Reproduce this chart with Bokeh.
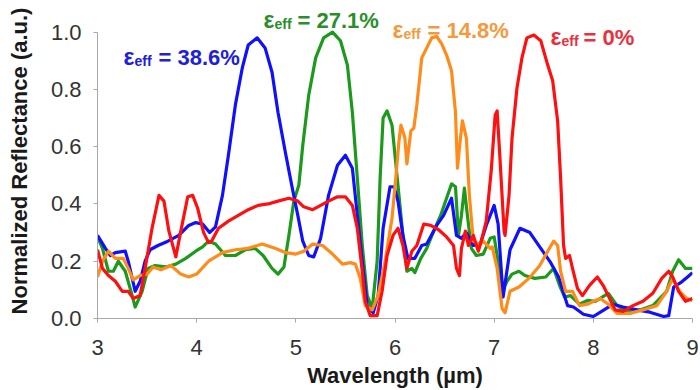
from bokeh.plotting import figure
from bokeh.models import Range1d, FixedTicker, PrintfTickFormatter, Label
from bokeh.embed import file_html
from bokeh.resources import INLINE

# ---------------- data ----------------
blue_x = [3.0, 3.08, 3.13, 3.18, 3.28, 3.31, 3.38, 3.43, 3.48, 3.53, 3.61, 3.71, 3.82, 3.92, 3.99, 4.06, 4.13, 4.19,
          4.26, 4.32, 4.39, 4.46, 4.52, 4.61, 4.69, 4.76, 4.82, 4.9, 4.97, 5.02, 5.07, 5.13, 5.18, 5.25, 5.33, 5.42,
          5.5, 5.57, 5.62, 5.67, 5.72, 5.78, 5.83, 5.88, 5.95, 5.99, 6.03, 6.08, 6.13, 6.2, 6.27, 6.32, 6.42, 6.49,
          6.57, 6.62, 6.67, 6.72, 6.79, 6.86, 6.92, 7.0, 7.04, 7.09, 7.16, 7.26, 7.36, 7.47, 7.57, 7.65, 7.74, 7.8,
          7.9, 8.0, 8.1, 8.2, 8.3, 8.44, 8.57, 8.71, 8.76, 8.81, 8.88, 8.95, 9.0]
blue_y = [0.29, 0.245, 0.22, 0.23, 0.235, 0.2, 0.095, 0.13, 0.2, 0.24, 0.255, 0.27, 0.29, 0.325, 0.335, 0.33, 0.30, 0.32,
          0.43, 0.57, 0.745, 0.875, 0.955, 0.98, 0.945, 0.86, 0.72, 0.57, 0.445, 0.36, 0.27, 0.22, 0.215, 0.28, 0.43, 0.535,
          0.57, 0.525, 0.36, 0.2, 0.045, 0.02, 0.08, 0.315, 0.46, 0.46, 0.41, 0.29, 0.21, 0.21, 0.255, 0.26, 0.325, 0.36,
          0.42, 0.29, 0.28, 0.30, 0.255, 0.26, 0.325, 0.395, 0.33, 0.075, 0.24, 0.315, 0.30, 0.245, 0.195, 0.145, 0.045, 0.04,
          0.015, 0.007, 0.028, 0.05, 0.04, 0.03, 0.022, 0.007, 0.01, 0.11, 0.125, 0.145, 0.16]

green_x = [3.0, 3.05, 3.11, 3.16, 3.21, 3.28, 3.35, 3.38, 3.45, 3.51, 3.58, 3.69, 3.79, 3.89, 3.99, 4.06, 4.12, 4.19,
           4.29, 4.39, 4.49, 4.59, 4.67, 4.76, 4.82, 4.88, 4.93, 4.98, 5.03, 5.07, 5.13, 5.2, 5.28, 5.37, 5.45, 5.52,
           5.57, 5.62, 5.67, 5.72, 5.77, 5.82, 5.85, 5.88, 5.92, 5.97, 6.02, 6.08, 6.12, 6.17, 6.2, 6.26, 6.32, 6.39,
           6.46, 6.52, 6.57, 6.61, 6.64, 6.67, 6.7, 6.73, 6.77, 6.82, 6.89, 6.96, 7.0, 7.03, 7.08, 7.13, 7.18, 7.25,
           7.31, 7.41, 7.52, 7.6, 7.66, 7.71, 7.77, 7.86, 7.94, 8.02, 8.07, 8.15, 8.24, 8.34, 8.47, 8.6, 8.74, 8.8,
           8.86, 8.93, 9.0]
green_y = [0.285, 0.245, 0.165, 0.165, 0.2, 0.165, 0.08, 0.04, 0.095, 0.175, 0.185, 0.18, 0.19, 0.21, 0.235, 0.25, 0.27, 0.26,
           0.22, 0.22, 0.24, 0.245, 0.22, 0.175, 0.155, 0.18, 0.29, 0.41, 0.465, 0.605, 0.78, 0.91, 0.98, 1.0, 0.97, 0.885,
           0.72, 0.49, 0.255, 0.08, 0.035, 0.2, 0.49, 0.70, 0.725, 0.675, 0.5, 0.29, 0.165, 0.175, 0.16, 0.21, 0.245, 0.305,
           0.36, 0.42, 0.47, 0.46, 0.29, 0.36, 0.455, 0.36, 0.245, 0.22, 0.225, 0.28, 0.285, 0.22, 0.095, 0.13, 0.155, 0.165,
           0.15, 0.14, 0.145, 0.175, 0.115, 0.075, 0.08, 0.05, 0.063, 0.06, 0.07, 0.088, 0.045, 0.025, 0.03, 0.045, 0.095, 0.165,
           0.205, 0.175, 0.175]

orange_x = [3.0, 3.05, 3.11, 3.18, 3.26, 3.31, 3.36, 3.43, 3.5, 3.56, 3.64, 3.74, 3.84, 3.92, 4.0, 4.12, 4.26, 4.39,
            4.52, 4.66, 4.79, 4.9, 5.0, 5.08, 5.17, 5.27, 5.37, 5.47, 5.55, 5.6, 5.65, 5.7, 5.77, 5.83, 5.9, 5.97,
            6.01, 6.04, 6.06, 6.1, 6.12, 6.16, 6.19, 6.22, 6.27, 6.32, 6.37, 6.42, 6.47, 6.52, 6.57, 6.61, 6.63, 6.66,
            6.68, 6.72, 6.75, 6.79, 6.84, 6.89, 6.96, 6.98, 7.03, 7.08, 7.11, 7.16, 7.25, 7.35, 7.46, 7.54, 7.6, 7.64,
            7.67, 7.72, 7.79, 7.86, 7.94, 8.02, 8.07, 8.15, 8.24, 8.37, 8.5, 8.64, 8.74, 8.8, 8.87, 8.94, 9.0]
orange_y = [0.145, 0.2, 0.235, 0.21, 0.21, 0.175, 0.135, 0.15, 0.155, 0.18, 0.17, 0.185, 0.155, 0.145, 0.155, 0.2, 0.23, 0.24,
            0.245, 0.26, 0.245, 0.23, 0.225, 0.235, 0.26, 0.255, 0.225, 0.19, 0.195, 0.19, 0.14, 0.045, 0.03, 0.08, 0.2, 0.35,
            0.5, 0.62, 0.675, 0.63, 0.54, 0.655, 0.665, 0.745, 0.91, 0.945, 0.98, 0.985, 0.96, 0.92, 0.865, 0.72, 0.525, 0.63,
            0.69, 0.63, 0.43, 0.27, 0.26, 0.27, 0.245, 0.25, 0.175, 0.035, 0.02, 0.095, 0.11, 0.14, 0.185, 0.235, 0.27, 0.255,
            0.165, 0.095, 0.095, 0.045, 0.05, 0.063, 0.07, 0.05, 0.018, 0.018, 0.03, 0.045, 0.095, 0.14, 0.095, 0.07, 0.063]

red_x = [3.0, 3.05, 3.11, 3.18, 3.25, 3.31, 3.36, 3.43, 3.48, 3.55, 3.62, 3.67, 3.72, 3.79, 3.84, 3.91, 3.96, 4.01,
         4.07, 4.12, 4.15, 4.22, 4.32, 4.42, 4.52, 4.62, 4.72, 4.82, 4.93, 5.02, 5.08, 5.17, 5.25, 5.33, 5.42, 5.5,
         5.57, 5.62, 5.67, 5.7, 5.75, 5.82, 5.87, 5.92, 5.98, 6.03, 6.08, 6.12, 6.17, 6.22, 6.29, 6.36, 6.44, 6.52,
         6.59, 6.62, 6.65, 6.67, 6.71, 6.74, 6.79, 6.84, 6.87, 6.92, 6.97, 7.01, 7.03, 7.06, 7.1, 7.11, 7.15, 7.18,
         7.23, 7.28, 7.33, 7.4, 7.47, 7.54, 7.59, 7.64, 7.67, 7.7, 7.72, 7.76, 7.79, 7.84, 7.89, 7.96, 8.04, 8.1,
         8.15, 8.22, 8.3, 8.4, 8.5, 8.6, 8.69, 8.76, 8.8, 8.86, 8.93, 9.0]
red_y = [0.24, 0.175, 0.15, 0.13, 0.095, 0.095, 0.07, 0.08, 0.175, 0.315, 0.43, 0.41, 0.305, 0.215, 0.305, 0.425, 0.43, 0.385,
         0.3, 0.265, 0.27, 0.315, 0.34, 0.36, 0.38, 0.395, 0.40, 0.41, 0.42, 0.41, 0.39, 0.38, 0.395, 0.41, 0.425, 0.425,
         0.395, 0.315, 0.165, 0.06, 0.01, 0.01, 0.095, 0.22, 0.29, 0.315, 0.255, 0.175, 0.235, 0.255, 0.33, 0.325, 0.31, 0.285,
         0.255, 0.175, 0.15, 0.245, 0.305, 0.255, 0.29, 0.235, 0.27, 0.34, 0.515, 0.71, 0.725, 0.55, 0.305, 0.29, 0.43, 0.63,
         0.805, 0.91, 0.98, 0.99, 0.97, 0.885, 0.83, 0.69, 0.49, 0.255, 0.21, 0.22, 0.175, 0.105, 0.08, 0.115, 0.145, 0.115,
         0.08, 0.03, 0.025, 0.045, 0.06, 0.088, 0.14, 0.165, 0.145, 0.095, 0.06, 0.07]

x_ticks = [3, 4, 5, 6, 7, 8, 9]
y_ticks = [0.0, 0.2, 0.4, 0.6, 0.8, 1.0]
series_labels = ["38.6%", "27.1%", "14.8%", "0%"]

# ---------------- figure ----------------
p = figure(width=700, height=390, output_backend="svg", toolbar_location=None,
           x_range=Range1d(3, 9), y_range=Range1d(0, 1.1),
           min_border_left=97, min_border_right=8, min_border_top=3, min_border_bottom=72)
p.outline_line_color = None
p.grid.visible = False
p.background_fill_color = "white"

for ax in (p.xaxis[0], p.yaxis[0]):
    ax.axis_line_color = "#a8a8a8"
    ax.major_tick_line_color = "#a8a8a8"
    ax.major_tick_in = 0
    ax.major_tick_out = 4
    ax.minor_tick_line_color = None
    ax.major_label_text_font = "Liberation Sans"
    ax.major_label_text_font_size = "22px"
    ax.major_label_text_color = "#333333"
    ax.axis_label_text_font = "Liberation Sans"
    ax.axis_label_text_font_style = "bold"
    ax.axis_label_text_font_size = "22px"
    ax.axis_label_text_color = "#1a1a1a"

p.xaxis.ticker = FixedTicker(ticks=x_ticks)
p.yaxis.ticker = FixedTicker(ticks=y_ticks)
p.yaxis.bounds = (0, 1.0)
p.yaxis.formatter = PrintfTickFormatter(format="%.1f")
p.xaxis.axis_label = "Wavelength (µm)"
p.yaxis.axis_label = "Normalized Reflectance (a.u.)"
p.xaxis.major_label_standoff = 17
p.xaxis.axis_label_standoff = 5
p.yaxis.major_label_standoff = 12
p.yaxis.axis_label_standoff = 16

lw = 3.2
p.line(green_x, green_y, line_color="#1c9a1c", line_width=lw, line_join="round")
p.line(blue_x, blue_y, line_color="#1010ff", line_width=lw, line_join="round")
p.line(orange_x, orange_y, line_color="#ff8c1a", line_width=lw, line_join="round")
p.line(red_x, red_y, line_color="#ff1010", line_width=lw, line_join="round")

# ---------------- annotations ----------------
ann = [
    # (eps x, main baseline y, sub x, sub baseline y, rest x, color, value)
    (3.262, 0.9126, 3.373, 0.8986, 3.615, "#2020d8", series_labels[0]),
    (4.674, 1.0420, 4.785, 1.0280, 5.017, "#2a8f2a", series_labels[1]),
    (5.975, 1.0070, 6.086, 0.9930, 6.328, "#f59a3c", series_labels[2]),
    (7.568, 0.9825, 7.679, 0.9685, 7.901, "#e8303e", series_labels[3]),
]
for ex, ey, sx, sy, rx, col, val in ann:
    common = dict(text_font="Liberation Sans", text_font_style="bold", text_color=col,
                  text_baseline="alphabetic", text_align="left")
    p.add_layout(Label(x=ex, y=ey, text="ε", text_font_size="23px", **common))
    p.add_layout(Label(x=sx, y=sy, text="eff", text_font_size="14px", **common))
    p.add_layout(Label(x=rx, y=ey, text="= " + val, text_font_size="22px", **common))

open("out.html", "w").write(file_html(p, INLINE))
